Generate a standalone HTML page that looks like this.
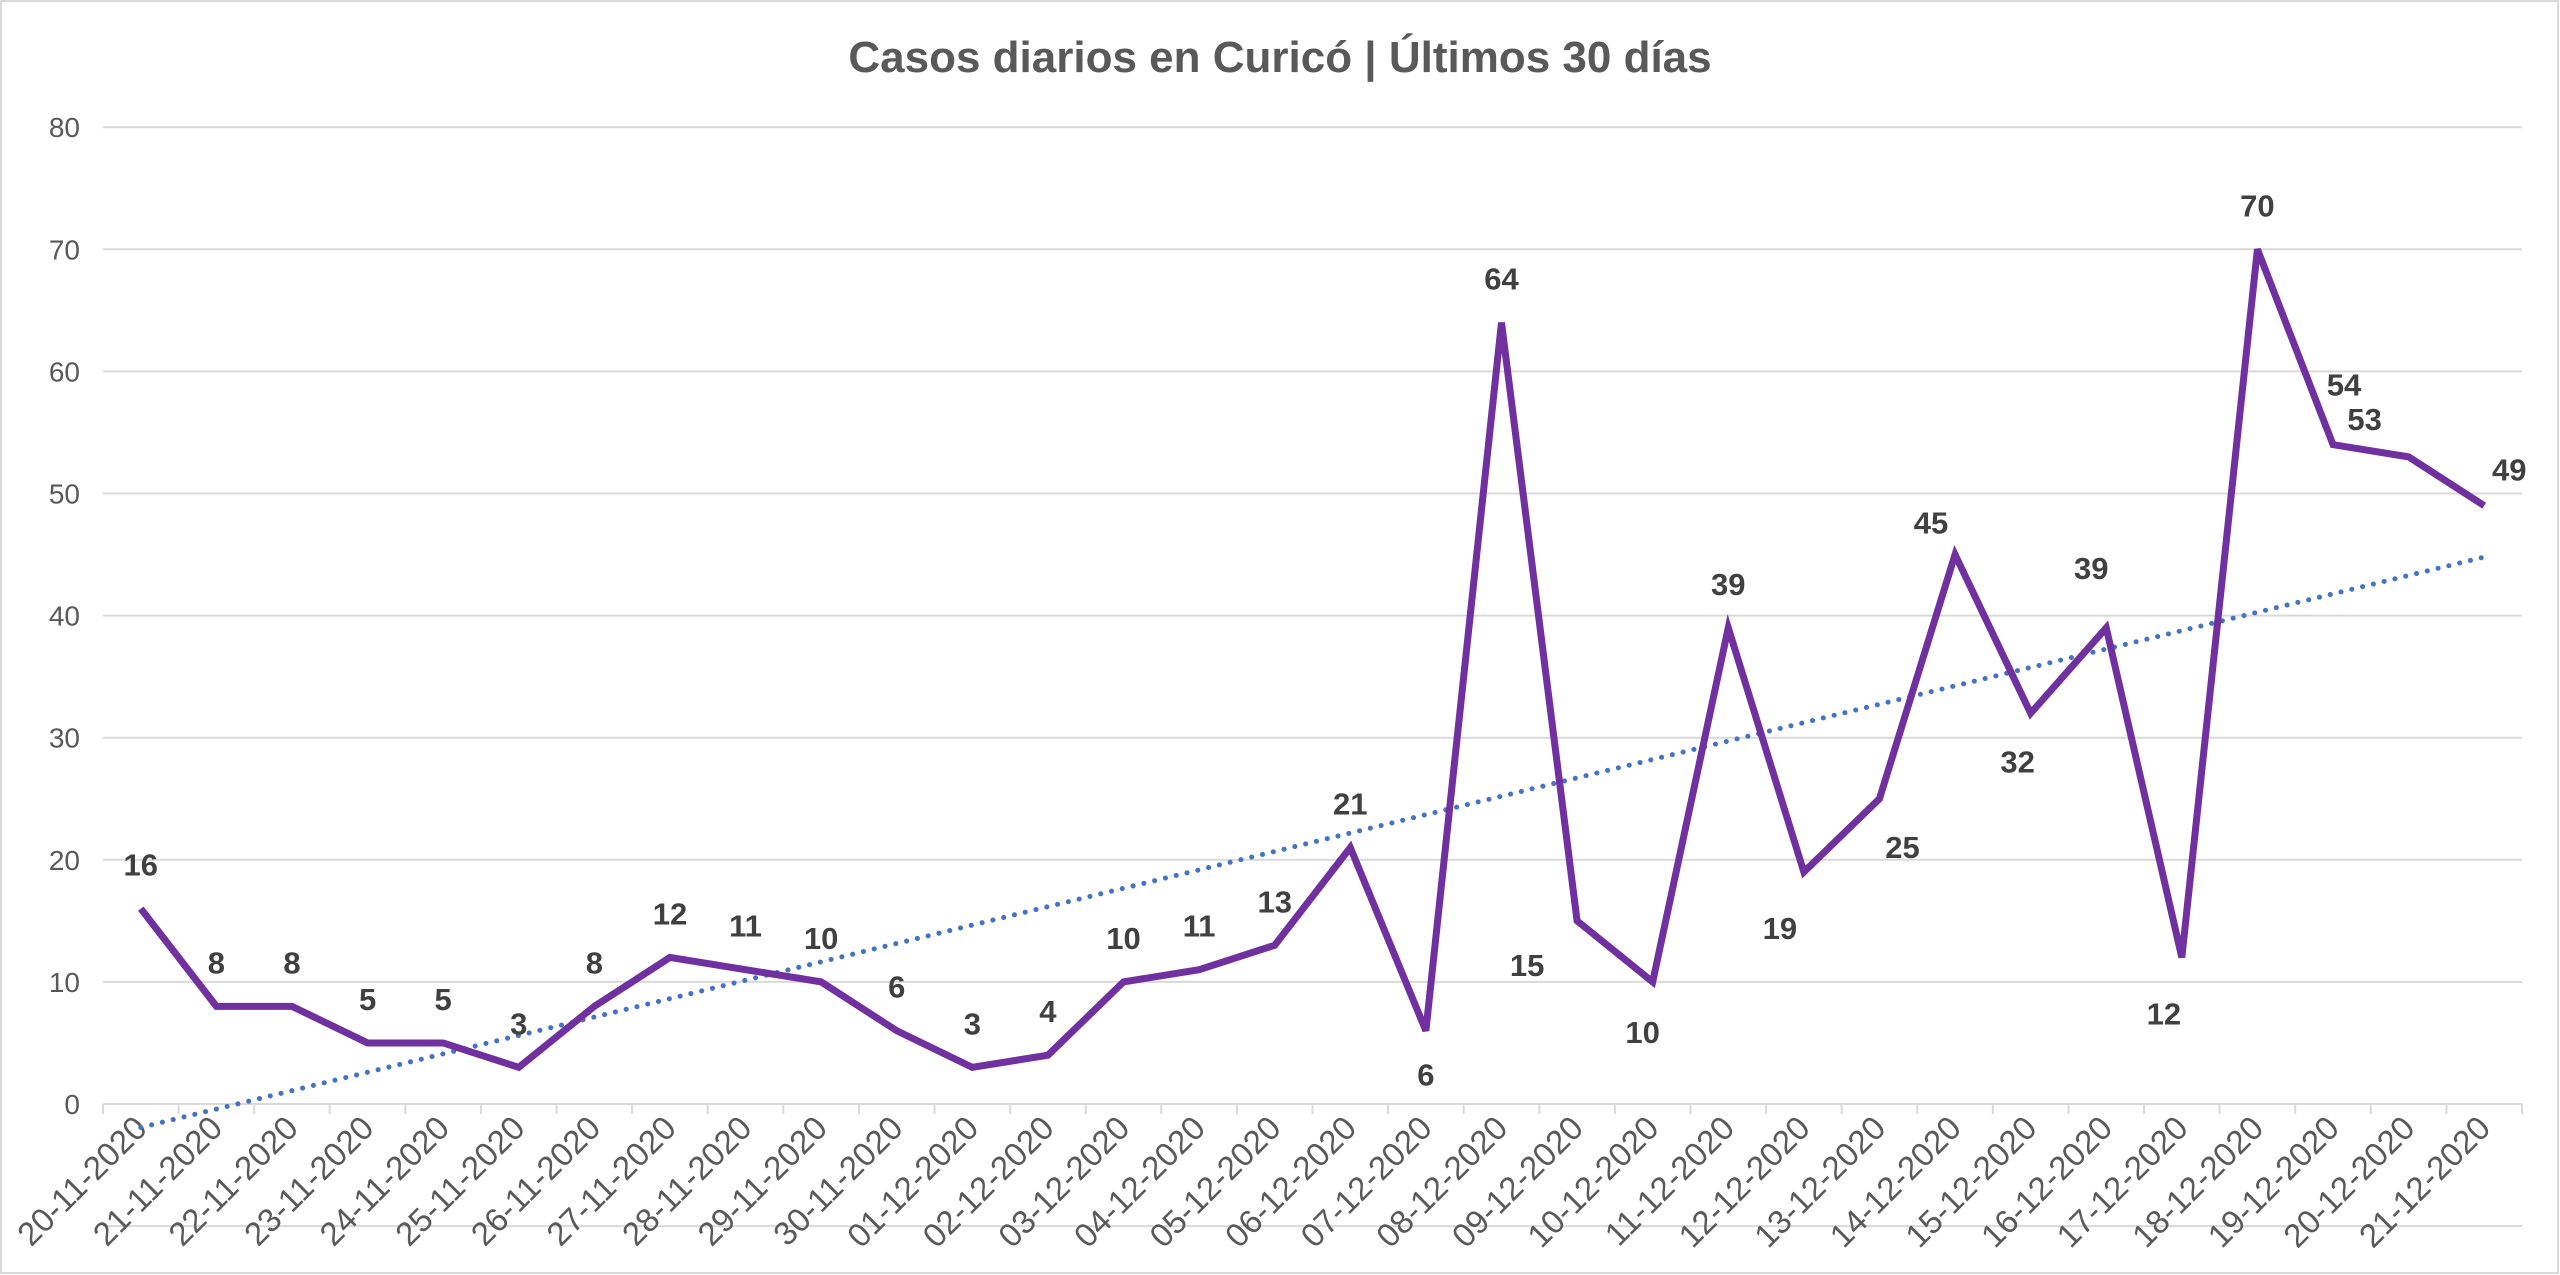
<!DOCTYPE html>
<html><head><meta charset="utf-8"><style>
html,body{margin:0;padding:0;background:#fff;}
svg{display:block;font-family:"Liberation Sans",sans-serif;}
</style></head><body>
<svg id="chart" width="2560" height="1275" viewBox="0 0 2560 1275">
<rect x="1" y="1" width="2557" height="1272" fill="#fff" stroke="#d9d9d9" stroke-width="2"/>
<text x="1280" y="72" text-anchor="middle" font-size="44" font-weight="bold" fill="#595959">Casos diarios en Curicó | Últimos 30 días</text>
<g id="grid"></g><g id="yt"></g><g id="xt"></g><g id="trend"></g><g id="series"></g><g id="labels"></g>
</svg>
<script>
const categories=["20-11-2020","21-11-2020","22-11-2020","23-11-2020","24-11-2020","25-11-2020","26-11-2020","27-11-2020","28-11-2020","29-11-2020","30-11-2020","01-12-2020","02-12-2020","03-12-2020","04-12-2020","05-12-2020","06-12-2020","07-12-2020","08-12-2020","09-12-2020","10-12-2020","11-12-2020","12-12-2020","13-12-2020","14-12-2020","15-12-2020","16-12-2020","17-12-2020","18-12-2020","19-12-2020","20-12-2020","21-12-2020"];
const cases=[16,8,8,5,5,3,8,12,11,10,6,3,4,10,11,13,21,6,64,15,10,39,19,25,45,32,39,12,70,54,53,49];
const yTicks=[-10,0,10,20,30,40,50,60,70,80];
const yTickLabels=["","0","10","20","30","40","50","60","70","80"];
const NS="http://www.w3.org/2000/svg";
const L=103,R=2522,Y0=1104,PU=12.21;
const step=(R-L)/categories.length;
function x(i){return L+step*(i+0.5);}
function y(v){return Y0-v*PU;}
function mk(tag,attrs,parent){const e=document.createElementNS(NS,tag);for(const k in attrs)e.setAttribute(k,attrs[k]);document.getElementById(parent).appendChild(e);return e;}
yTicks.forEach((t,i)=>{
  const g=mk('line',{x1:L,x2:R,y1:y(t),y2:y(t),stroke:'#d9d9d9','stroke-width':2},'grid');
  
  
  if(yTickLabels[i]){
    const tx=mk('text',{x:80,y:y(t)+10,'text-anchor':'end','font-size':28,fill:'#595959'},'yt');
    tx.textContent=yTickLabels[i];
    
    
  }
});
for(let i=0;i<=categories.length;i++){
  const tk=mk('line',{x1:L+step*i,x2:L+step*i,y1:Y0,y2:Y0+10,stroke:'#d9d9d9','stroke-width':2},'grid');
  
  
}
categories.forEach((c,i)=>{
  const cx=x(i)+8,cy=Y0+26;
  const t=mk('text',{x:cx,y:cy,'text-anchor':'end','font-size':33,fill:'#595959',transform:`rotate(-45 ${cx} ${cy})`},'xt');
  t.textContent=c;
  
  
});
const n=cases.length;let sx=0,sy=0,sxy=0,sxx=0;
cases.forEach((v,i)=>{sx+=i;sy+=v;sxy+=i*v;sxx+=i*i;});
const b=(n*sxy-sx*sy)/(n*sxx-sx*sx),a=(sy-b*sx)/n;
const tl=mk('line',{x1:x(0),y1:y(a),x2:x(n-1),y2:y(a+b*(n-1)),stroke:'#4472c4','stroke-width':5,'stroke-dasharray':'0.1 11','stroke-linecap':'round'},'trend');


const pl=mk('polyline',{points:cases.map((v,i)=>x(i)+','+y(v)).join(' '),fill:'none',stroke:'#7030a0','stroke-width':7,'stroke-linejoin':'miter'},'series');


const labelOffsets={17:[0,44],19:[-50,44],20:[-10,50],22:[-24,56],23:[23,48],24:[-24,-32],25:[-13,48],26:[-15,-60],27:[-18,56],29:[11,-60],30:[-44,-38],31:[25,-36]};
cases.forEach((v,i)=>{
  const o=labelOffsets[i]||[0,-44];
  const t=mk('text',{x:x(i)+o[0],y:y(v)+o[1]+11,'text-anchor':'middle','font-size':31,'font-weight':'bold',fill:'#404040'},'labels');
  t.textContent=v;
  
  
});
</script>
</body></html>
